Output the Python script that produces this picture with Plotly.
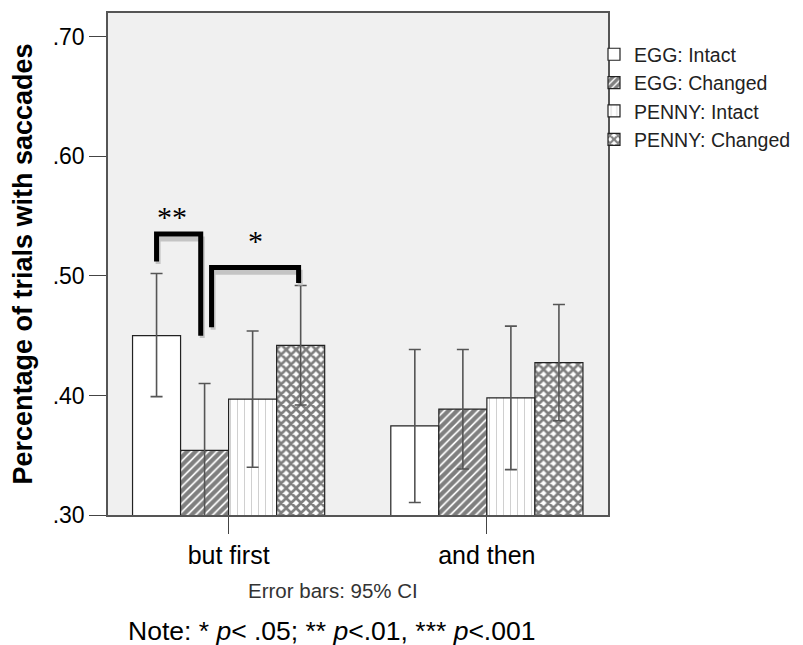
import plotly.graph_objects as go

# ---------------- data ----------------
categories = ["but first", "and then"]
series_names = ["EGG: Intact", "EGG: Changed", "PENNY: Intact", "PENNY: Changed"]

egg_intact = [0.450, 0.3745]
egg_changed = [0.354, 0.3885]
penny_intact = [0.397, 0.398]
penny_changed = [0.442, 0.4275]

egg_intact_ci_hi = [0.052, 0.064]
egg_intact_ci_lo = [0.051, 0.064]
egg_changed_ci = [0.056, 0.050]
penny_intact_ci = [0.057, 0.060]
penny_changed_ci = [0.050, 0.0486]

y_tickvals = [0.30, 0.40, 0.50, 0.60, 0.70]
y_ticktext = [".30", ".40", ".50", ".60", ".70"]

# significance brackets:
# (left series, right series, left bottom, right bottom, top, label, label y)
sig_levels = [
    (0, 1, 0.512, 0.450, 0.535, "**", 0.5494),
    (1, 3, 0.457, 0.494, 0.507, "*", 0.530),
]

# ---------------- styling ----------------
BARGAP = 0.256
x_pos = list(range(len(categories)))
bar_w = (1 - BARGAP) / 4


def offset(i):
    return -0.5 * (1 - BARGAP) + bar_w * (i + 0.5)


line_style = dict(color="#222222", width=1.2)
err_style = dict(color="#555555", thickness=1.6, width=6)

patterns = [
    dict(shape=""),
    dict(shape="/", fgcolor="black", bgcolor="white", size=6, solidity=0.7),
    dict(shape="|", fgcolor="#a0a0a0", bgcolor="white", size=7, solidity=0.14),
    dict(shape="x", fgcolor="black", bgcolor="white", size=7, solidity=0.62),
]
values = [egg_intact, egg_changed, penny_intact, penny_changed]
errs_hi = [egg_intact_ci_hi, egg_changed_ci, penny_intact_ci, penny_changed_ci]
errs_lo = [egg_intact_ci_lo, egg_changed_ci, penny_intact_ci, penny_changed_ci]

fig = go.Figure()
for i, name in enumerate(series_names):
    fig.add_trace(go.Bar(
        x=x_pos, y=values[i], name=name, legendgroup=name,
        marker=dict(color="white", line=line_style, pattern=patterns[i]),
        error_y=dict(type="data", array=errs_hi[i], arrayminus=errs_lo[i],
                     symmetric=False, **err_style),
    ))

# significance brackets
for (a, b, yl, yr, yt, lab, ly) in sig_levels:
    xa = x_pos[0] + offset(a)
    xb = x_pos[0] + offset(b)
    if a == 0:
        xb -= 0.015
        lx = (xa + xb) / 2 - 0.025
    else:
        xa += 0.027
        xb -= 0.008
        lx = (xa + xb) / 2 + 0.0
    # grey shadow
    fig.add_shape(type="path",
                  path=f"M {xa+0.006},{yl-0.002} L {xa+0.006},{yt-0.004} L {xb+0.006},{yt-0.004} L {xb+0.006},{yr-0.002}",
                  line=dict(color="#c4c4c4", width=5), layer="above")
    fig.add_shape(type="path",
                  path=f"M {xa},{yl} L {xa},{yt} L {xb},{yt} L {xb},{yr}",
                  line=dict(color="black", width=5), layer="above")
    fig.add_annotation(x=lx, y=ly, text=lab, showarrow=False, yanchor="middle",
                       font=dict(family="Liberation Serif", size=30, color="black"))

fig.add_annotation(xref="paper", yref="paper", x=(333 - 108) / 500, y=-(591 - 515.5) / 502.5,
                   text="Error bars: 95% CI", showarrow=False, yanchor="middle",
                   font=dict(family="Liberation Sans", size=20.5, color="#333333"))
fig.add_annotation(xref="paper", yref="paper", x=(331.5 - 108) / 500, y=-(632 - 515.5) / 502.5,
                   text="Note: * <i>p</i>&lt; .05; ** <i>p</i>&lt;.01, *** <i>p</i>&lt;.001",
                   showarrow=False, yanchor="middle",
                   font=dict(family="Liberation Sans", size=26.5, color="black"))

fig.update_layout(
    width=803, height=645,
    margin=dict(l=108, r=195, t=13, b=130, autoexpand=False),
    paper_bgcolor="white", plot_bgcolor="#f0f0f0",
    barmode="group", bargap=BARGAP, bargroupgap=0,
    font=dict(family="Liberation Sans", color="black"),
    showlegend=True,
    legend=dict(x=0.972, y=0.956, xanchor="left", yanchor="top",
                bgcolor="rgba(0,0,0,0)", font=dict(size=19.5, color="#222222"),
                tracegroupgap=0, itemwidth=30),
)
fig.update_xaxes(
    range=[-0.467, 1.469], tickvals=x_pos, ticktext=categories,
    ticks="outside", ticklen=17, tickcolor="#444444", tickwidth=1,
    showline=True, linecolor="#555555", linewidth=1.5, mirror=True,
    showgrid=False, zeroline=False, automargin=False,
    tickfont=dict(size=25, color="black"),
)
fig.update_yaxes(
    range=[0.30, 0.72], tickvals=y_tickvals, ticktext=y_ticktext,
    ticks="outside", ticklen=17, tickcolor="#444444", tickwidth=1,
    showline=True, linecolor="#555555", linewidth=1.5, mirror=True,
    showgrid=False, zeroline=False, automargin=False,
    tickfont=dict(size=23, color="black"),
    title=dict(text="Percentage of trials with saccades", standoff=12,
               font=dict(size=27, color="black", weight="bold")),
)

fig.write_html("out.html")
